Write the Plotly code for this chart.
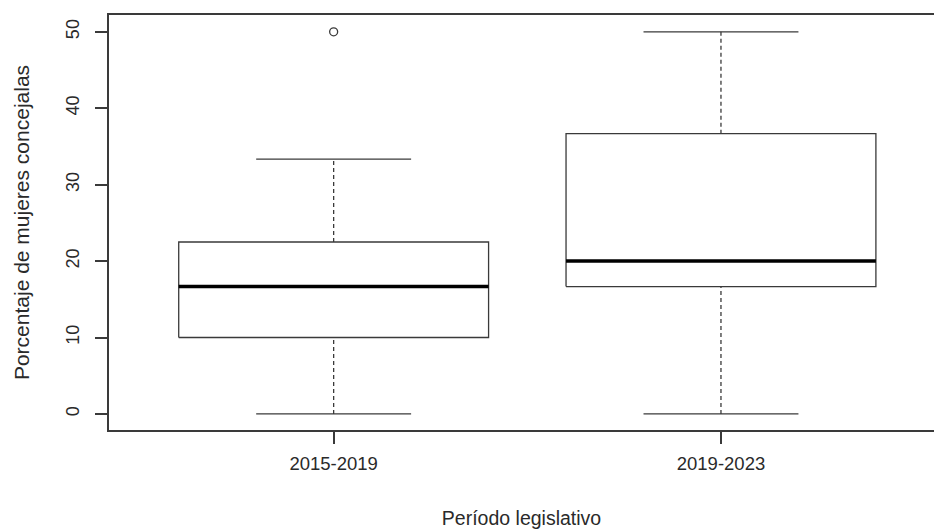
import plotly.graph_objects as go

# ---- data ----
categories = ["2015-2019", "2019-2023"]
lower_whisker = [0.0, 0.0]
q1 = [10.0, 16.67]
median = [16.67, 20.0]
q3 = [22.5, 36.67]
upper_whisker = [33.33, 50.0]
outliers = [[50.0], []]
y_ticks = [0, 10, 20, 30, 40, 50]

positions = [i + 1 for i in range(len(categories))]
box_half = 0.4      # boxwex 0.8
cap_half = 0.2      # staplewex 0.5

LINE = "#3a3a3a"
TEXT = "#2a2a2a"
FONT = "Liberation Sans, Arial, sans-serif"

box_x, box_y = [], []
med_x, med_y = [], []
whisk_x, whisk_y = [], []
cap_x, cap_y = [], []
out_x, out_y = [], []
for p, lo, a, m, b, hi, outs in zip(positions, lower_whisker, q1, median, q3,
                                    upper_whisker, outliers):
    box_x += [p - box_half, p + box_half, p + box_half, p - box_half, p - box_half, None]
    box_y += [a, a, b, b, a, None]
    med_x += [p - box_half, p + box_half, None]
    med_y += [m, m, None]
    whisk_x += [p, p, None, p, p, None]
    whisk_y += [lo, a, None, b, hi, None]
    cap_x += [p - cap_half, p + cap_half, None, p - cap_half, p + cap_half, None]
    cap_y += [lo, lo, None, hi, hi, None]
    for o in outs:
        out_x.append(p)
        out_y.append(o)

fig = go.Figure()
fig.add_trace(go.Scatter(x=whisk_x, y=whisk_y, mode="lines",
                         line=dict(color=LINE, width=1.3, dash="4px,3px"),
                         hoverinfo="skip", showlegend=False))
fig.add_trace(go.Scatter(x=cap_x, y=cap_y, mode="lines",
                         line=dict(color=LINE, width=1.3),
                         hoverinfo="skip", showlegend=False))
fig.add_trace(go.Scatter(x=box_x, y=box_y, mode="lines",
                         line=dict(color=LINE, width=1.3),
                         fill="toself", fillcolor="white",
                         hoverinfo="skip", showlegend=False))
fig.add_trace(go.Scatter(x=med_x, y=med_y, mode="lines",
                         line=dict(color="black", width=3.5),
                         hoverinfo="skip", showlegend=False))
fig.add_trace(go.Scatter(x=out_x, y=out_y, mode="markers",
                         marker=dict(symbol="circle-open", size=8,
                                     color=LINE, line=dict(width=1.3)),
                         showlegend=False))

fig.update_layout(
    width=934, height=531,
    margin=dict(l=109, r=0, t=15, b=101),
    paper_bgcolor="white", plot_bgcolor="white",
    font=dict(family=FONT, size=18, color=TEXT),
    showlegend=False,
)
fig.update_xaxes(
    range=[0.42, 2.55], tickmode="array", tickvals=positions, ticktext=categories,
    showgrid=False, zeroline=False,
    showline=True, mirror=True, linecolor=LINE, linewidth=1.5,
    ticks="outside", ticklen=12, tickwidth=1.5, tickcolor=LINE,
    ticklabelstandoff=4,
    tickfont=dict(size=18.5, color=TEXT),
    title=dict(text="Período legislativo", font=dict(size=19.5, color=TEXT), standoff=38),
    automargin=False,
)
fig.update_yaxes(
    range=[-2.1, 52.2], tickmode="array", tickvals=y_ticks,
    ticktext=[str(v) for v in y_ticks], tickangle=-90,
    showgrid=False, zeroline=False,
    showline=True, mirror=False, linecolor=LINE, linewidth=1.5,
    ticks="outside", ticklen=12, tickwidth=1.5, tickcolor=LINE,
    ticklabelstandoff=9,
    tickfont=dict(size=18, color=TEXT),
    title=dict(text="Porcentaje de mujeres concejalas", font=dict(size=21, color=TEXT), standoff=28),
    automargin=False,
)

fig.write_html("out.html")
